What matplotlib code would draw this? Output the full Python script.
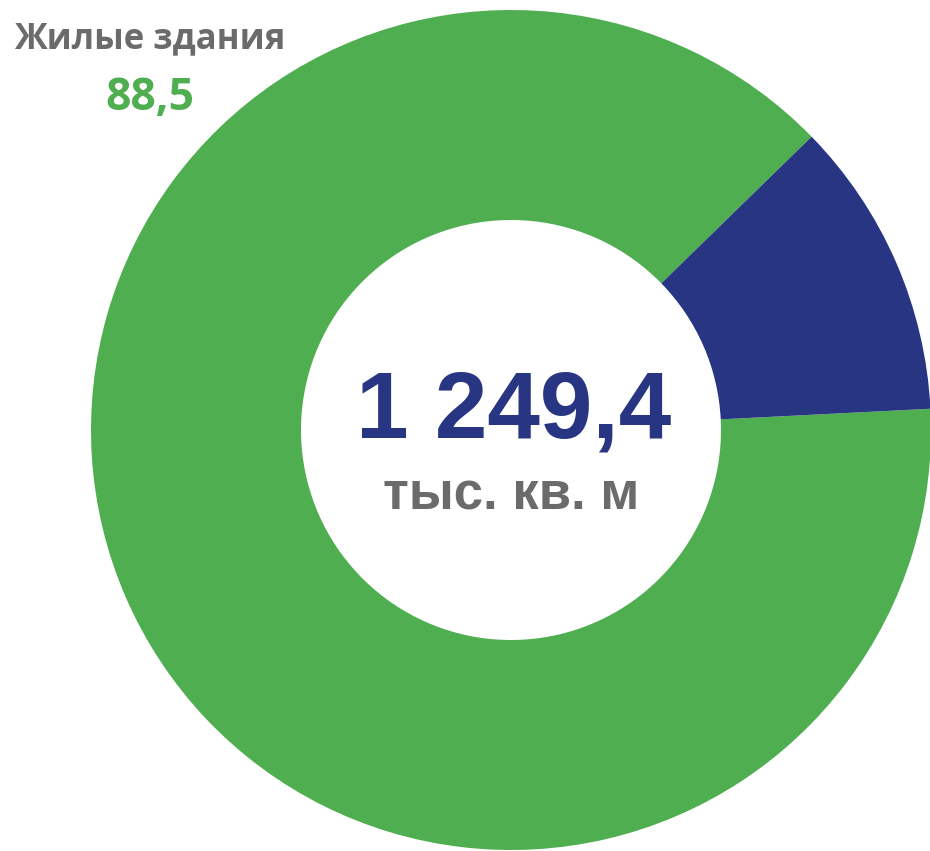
import matplotlib.pyplot as plt

# доля площади, %
labels = ['Жилые здания', 'Нежилые здания']
shares = [88.5, 11.5]
colors = ['#4fae50', '#283583']
total_text = '1 249,4'
unit_text = 'тыс. кв. м'

W, H = 930, 851
fig = plt.figure(figsize=(W / 100, H / 100), dpi=100)
ax = fig.add_axes([0, 0, 1, 1])

# центр и радиус кольца в пикселях
cx, cy, r = 511, H - 430, 420
ax.pie(shares, colors=colors, startangle=44.3, counterclock=True,
       center=(cx, cy), radius=r,
       wedgeprops=dict(width=r * 0.5, edgecolor='none'))
ax.set_xlim(0, W)
ax.set_ylim(0, H)
ax.set_aspect('auto')
ax.axis('off')

ax.text(150, H - 48, labels[0], ha='center', va='baseline',
        fontsize=25, fontweight='bold', color='#6b6b6b', family='Open Sans')
ax.text(150, H - 110, f'{shares[0]:.1f}'.replace('.', ','), ha='center', va='baseline',
        fontsize=32, fontweight='bold', color=colors[0], family='Open Sans')

ax.text(514, H - 437, total_text, ha='center', va='baseline',
        fontsize=68, fontweight='bold', color=colors[1], family='Liberation Sans')
ax.text(511, H - 509, unit_text, ha='center', va='baseline',
        fontsize=38, fontweight='bold', color='#6b6b6b', family='Liberation Sans')

fig.savefig('out.png', dpi=100)
